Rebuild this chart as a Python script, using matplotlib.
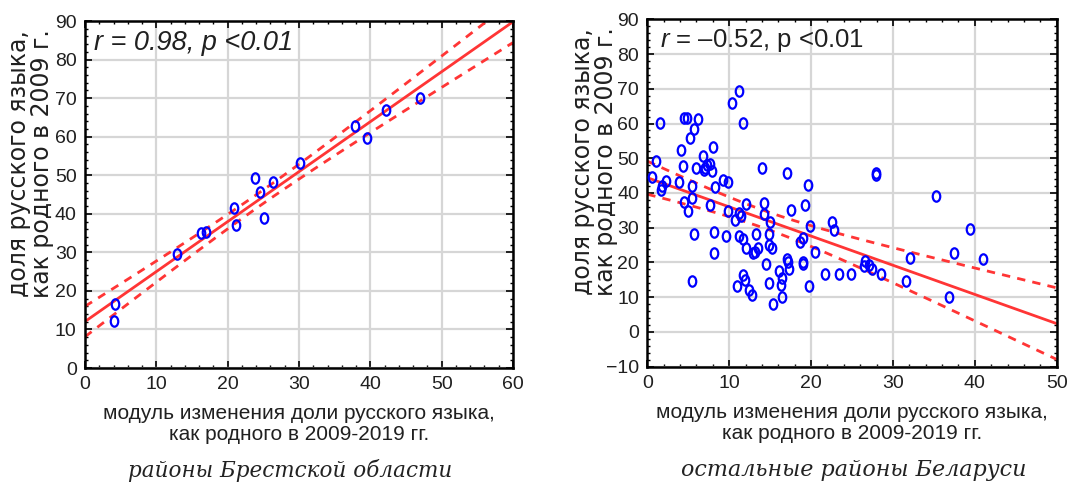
import numpy as np
import matplotlib
matplotlib.use('Agg')
import matplotlib.pyplot as plt
from matplotlib import font_manager
from matplotlib.path import Path
from matplotlib.ticker import MultipleLocator

# Brest region districts
brest_x = [47.0, 42.2, 37.9, 39.5, 30.2, 23.8, 26.3, 24.6, 20.9, 21.2, 25.1,
           16.2, 17.0, 12.9, 4.2, 4.0]
brest_y = [70.1, 66.9, 62.8, 59.7, 53.1, 49.4, 48.2, 45.7, 41.4, 37.1, 39.0,
           34.9, 35.3, 29.7, 16.5, 12.3]

# other districts of Belarus
other_x = [11.2, 10.3, 11.7, 1.5, 4.5, 4.9, 6.15, 5.7, 5.2, 4.1, 8.0, 1.0,
           4.3, 6.8, 5.9, 7.05, 7.25, 7.6, 6.9, 7.9, 9.2, 9.9, 0.6, 2.25,
           3.9, 5.5, 8.3, 1.85, 1.7, 14.0, 17.0, 19.6, 27.9, 27.9, 5.4, 4.5,
           5.0, 7.6, 9.8, 11.2, 11.5, 10.7, 12.1, 5.7, 8.2, 9.6, 11.2, 11.7,
           12.1, 12.9, 8.2, 5.5, 11.65, 11.9, 11.0, 12.4, 12.75, 14.25, 14.2,
           15.0, 13.3, 14.8, 13.55, 13.15, 14.8, 15.2, 14.5, 17.0, 17.2, 17.3,
           16.1, 16.5, 16.3, 16.4, 15.4, 14.8, 17.5, 19.3, 19.85, 19.0, 18.6,
           19.05, 19.05, 20.5, 19.8, 22.6, 22.85, 21.7, 23.4, 24.9, 26.6, 26.5,
           27.1, 27.5, 28.6, 31.6, 32.1, 35.25, 36.9, 37.4, 39.4, 41.0]
other_y = [69.4, 66.0, 60.1, 60.1, 61.5, 61.5, 61.4, 58.5, 55.8, 52.5, 53.2,
           49.3, 47.9, 50.6, 47.2, 47.3, 48.1, 48.4, 46.6, 46.4, 43.8, 43.1,
           44.6, 43.4, 43.3, 41.9, 41.7, 42.0, 40.9, 47.1, 45.7, 42.4, 45.7,
           45.1, 38.5, 37.5, 34.9, 36.4, 34.9, 34.3, 33.4, 32.2, 36.9, 28.3,
           28.9, 27.6, 27.6, 26.7, 24.1, 22.8, 22.8, 14.8, 16.3, 15.0, 13.2,
           12.1, 10.5, 37.0, 34.0, 31.6, 28.3, 28.3, 24.3, 23.0, 25.0, 24.1,
           19.5, 21.0, 20.2, 18.1, 17.5, 15.4, 13.4, 10.1, 8.0, 14.1, 35.0,
           36.4, 30.4, 27.0, 25.8, 20.2, 19.6, 22.9, 13.3, 31.7, 29.4, 16.8,
           16.8, 16.8, 20.3, 19.1, 19.4, 18.0, 16.7, 14.8, 21.4, 39.1, 10.0,
           22.8, 29.5, 20.9]

# regression line of the second panel
# (intercept, slope); the first panel is fitted from its points
other_fit = [44.4, -0.84]

x_label = 'модуль изменения доли русского языка,\nкак родного в 2009-2019 гг.'
y_label = 'доля русского языка,\nкак родного в 2009 г.'
titles = ['районы Брестской области', 'остальные районы Беларуси']

names = {f.name for f in font_manager.fontManager.ttflist}
narrow = 'Liberation Sans Narrow' in names
SANS = 'Liberation Sans Narrow' if narrow else 'Liberation Sans'
NOTE_SIZE = 22 if narrow else 18.5

plt.rcParams['mathtext.fontset'] = 'custom'
plt.rcParams['mathtext.it'] = SANS + ':italic'
plt.rcParams['mathtext.rm'] = SANS

RED = '#ff3535'
BLUE = '#0000ff'
TXT = '#202020'

circ = Path.unit_circle()
ell = Path(circ.vertices * [0.72, 1.0], circ.codes)


def t_crit(df):
    ''' two-sided 95% Student t, Cornish-Fisher approximation '''
    z = 1.959964
    return (z + (z**3 + z) / (4 * df)
            + (5 * z**5 + 16 * z**3 + 3 * z) / (96 * df**2))


def panel(ax, x, y, xmax, ymin, coef=None):
    x = np.array(x)
    y = np.array(y)
    n = len(x)
    if coef is None:
        b, a = np.polyfit(x, y, 1)
    else:
        a, b = coef
    xs = np.linspace(0, xmax, 300)
    fit = a + b * xs
    s = np.sqrt(np.sum((y - (a + b * x)) ** 2) / (n - 2))
    xm = x.mean()
    se = s * np.sqrt(1 / n + (xs - xm) ** 2 / np.sum((x - xm) ** 2))
    ci = t_crit(n - 2) * se

    ax.plot(xs, fit, color=RED, lw=2, zorder=2)
    ax.plot(xs, fit + ci, color=RED, lw=2, ls=(0, (3, 2.6)), zorder=2)
    ax.plot(xs, fit - ci, color=RED, lw=2, ls=(0, (3, 2.6)), zorder=2)
    ax.plot(x, y, ls='none', marker=ell, ms=7.5, mfc='none', mec=BLUE,
            mew=1.6, zorder=3)

    ax.set_xlim(0, xmax)
    ax.set_ylim(ymin, 90)
    ax.xaxis.set_major_locator(MultipleLocator(10))
    ax.yaxis.set_major_locator(MultipleLocator(10))
    ax.xaxis.set_minor_locator(MultipleLocator(2))
    ax.yaxis.set_minor_locator(MultipleLocator(2))
    ax.grid(True, which='major', color='#d6d6d6', lw=1.6, zorder=0)
    ax.set_axisbelow(True)
    ax.tick_params(which='both', direction='in', top=True, right=True,
                   color='black', labelcolor=TXT, labelsize=14, pad=6)
    ax.tick_params(which='major', length=5, width=1.2)
    ax.tick_params(which='minor', length=2.5, width=1)
    for lab in ax.get_xticklabels() + ax.get_yticklabels():
        lab.set_family(SANS)
    for sp in ax.spines.values():
        sp.set_linewidth(1.8)
        sp.set_color('black')
    ax.text(-0.128, 0.59, y_label, transform=ax.transAxes, rotation=90,
            ha='center', va='center', fontsize=17, family='DejaVu Sans',
            color=TXT, linespacing=0.95, multialignment='center')
    ax.text(0.5, -0.162, x_label, transform=ax.transAxes, ha='center',
            va='center', fontsize=15, family='Liberation Sans', color=TXT,
            linespacing=1.1, multialignment='center')


fig = plt.figure(figsize=(10.73, 4.93), dpi=100)
ax1 = fig.add_axes([0.0792, 0.2535, 0.3989, 0.7039])
ax2 = fig.add_axes([0.6033, 0.2562, 0.3815, 0.7047])

panel(ax1, brest_x, brest_y, 60, 0)
panel(ax2, other_x, other_y, 50, -10, other_fit)

ax1.text(0.02, 0.937, 'r = 0.98, p <0.01', transform=ax1.transAxes,
         ha='left', va='center', fontsize=NOTE_SIZE + 1, family=SANS,
         style='italic', color=TXT)
ax2.text(0.031, 0.94, '$r$ = \u20130.52, p <0.01', transform=ax2.transAxes,
         ha='left', va='center', fontsize=NOTE_SIZE, family=SANS, color=TXT)

fig.text(0.27, 1 - 470 / 493, titles[0], ha='center', va='center',
         fontsize=15.5, family='DejaVu Serif', style='italic', color='#222222')
fig.text(0.796, 1 - 470 / 493, titles[1], ha='center', va='center',
         fontsize=16, family='DejaVu Serif', style='italic', color='#222222')

fig.savefig('out.png', dpi=100)
